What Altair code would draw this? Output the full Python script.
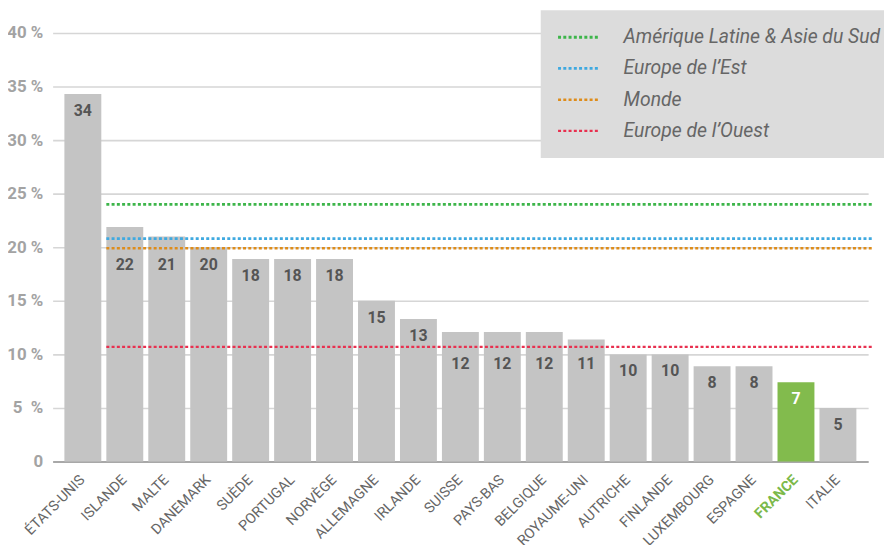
import altair as alt
import pandas as pd

countries = ["ÉTATS-UNIS", "ISLANDE", "MALTE", "DANEMARK", "SUÈDE", "PORTUGAL",
             "NORVÈGE", "ALLEMAGNE", "IRLANDE", "SUISSE", "PAYS-BAS", "BELGIQUE",
             "ROYAUME-UNI", "AUTRICHE", "FINLANDE", "LUXEMBOURG", "ESPAGNE",
             "FRANCE", "ITALIE"]
values = [34.3, 21.9, 21.0, 20.0, 18.9, 18.9, 18.9, 15.0, 13.3, 12.1, 12.1, 12.1,
          11.4, 10.0, 10.0, 8.9, 8.9, 7.4, 5.0]
bar_labels = [34, 22, 21, 20, 18, 18, 18, 15, 13, 12, 12, 12, 11, 10, 10, 8, 8, 7, 5]

ref_names = ["Amérique Latine & Asie du Sud", "Europe de l’Est", "Monde", "Europe de l’Ouest"]
ref_values = [24.0, 20.8, 19.9, 10.7]
ref_colors = ["#3db54a", "#3fa9e0", "#de8c1a", "#e8304f"]
ref_widths = [3, 2.2, 3, 1.8]
ref_start = "ISLANDE"
highlight = "FRANCE"

FONT = "Roboto"
W, H = 822, 432

# label anchor: pushed below any reference line crossing the top of the bar
anchors = []
for i, v in enumerate(values):
    crossing = [r for r in ref_values if i >= countries.index(ref_start) and v - 2.5 < r <= v]
    anchors.append(min(crossing) if crossing else v)

bars_df = pd.DataFrame({"country": countries, "value": values,
                        "label": bar_labels, "anchor": anchors})
refs_df = pd.DataFrame({"name": ref_names, "value": ref_values,
                        "start": [ref_start] * len(ref_names)})

xscale = alt.Scale(domain=countries, paddingInner=0.12, paddingOuter=0.28)
yscale = alt.Scale(domain=[0, 40])

bars = alt.Chart(bars_df).mark_bar().encode(
    x=alt.X("country:N", scale=xscale, sort=countries, title=None,
            axis=alt.Axis(labelAngle=-45, labelAlign="right", labelBaseline="middle",
                          labelPadding=16, ticks=False, domainColor="#a8a8a8",
                          domainWidth=2, labelFont=FONT, labelFontSize=14.5,
                          labelColor=alt.condition(f"datum.value == '{highlight}'",
                                                   alt.value("#7cb94a"), alt.value("#666666")),
                          labelFontWeight=alt.condition(f"datum.value == '{highlight}'",
                                                        alt.value("bold"), alt.value("normal")),
                          labelOverlap=False)),
    y=alt.Y("value:Q", scale=yscale, title=None,
            axis=alt.Axis(values=[0, 5, 10, 15, 20, 25, 30, 35, 40],
                          labelExpr="datum.value == 0 ? '0' : (datum.value == 5 ? '5\u00a0 %' : datum.value + ' %')",
                          ticks=False, domain=False, gridColor="#d6d6d6", gridWidth=1.6,
                          labelFont=FONT, labelFontSize=17, labelFontWeight="bold",
                          labelColor="#a3a3a3", labelPadding=10)),
    color=alt.condition(f"datum.country == '{highlight}'",
                        alt.value("#82bb4d"), alt.value("#c4c4c4")),
)

text = alt.Chart(bars_df).mark_text(
    baseline="middle", dy=17, font=FONT, fontSize=16, fontWeight="bold"
).encode(
    x=alt.X("country:N", scale=xscale, sort=countries, title=None),
    y=alt.Y("anchor:Q", scale=yscale, title=None),
    text="label:N",
    color=alt.condition(f"datum.country == '{highlight}'",
                        alt.value("#ffffff"), alt.value("#555555")),
)

rules = alt.Chart(refs_df).mark_rule(strokeDash=[3, 2.3]).encode(
    x=alt.X("start:N", scale=xscale, bandPosition=0, title=None),
    x2=alt.value(W + 5),
    y=alt.Y("value:Q", scale=yscale, title=None),
    color=alt.Color("name:N", scale=alt.Scale(domain=ref_names, range=ref_colors),
                    sort=ref_names,
                    legend=alt.Legend(title=None, orient="none", legendX=492, legendY=-23,
                                      fillColor="#dcdcdc", padding=17.5,
                                      symbolType="M-1.4,0H4.6", symbolSize=196,
                                      symbolStrokeWidth=3, symbolDash=[3, 2.3],
                                      labelOffset=46.5,
                                      labelFont=FONT, labelFontStyle="italic",
                                      labelFontSize=19.5, labelColor="#666666",
                                      rowPadding=10.5, labelLimit=400)),
    strokeWidth=alt.StrokeWidth("name:N", scale=alt.Scale(domain=ref_names, range=ref_widths),
                                legend=None),
)

chart = alt.layer(bars, text, rules).properties(
    width=W, height=H,
    autosize=alt.AutoSizeParams(type="none"),
    padding={"left": 45, "top": 23, "right": 16, "bottom": 82},
).configure_view(stroke=None)

chart.save("out.html", embed_options={"renderer": "svg", "actions": False})
